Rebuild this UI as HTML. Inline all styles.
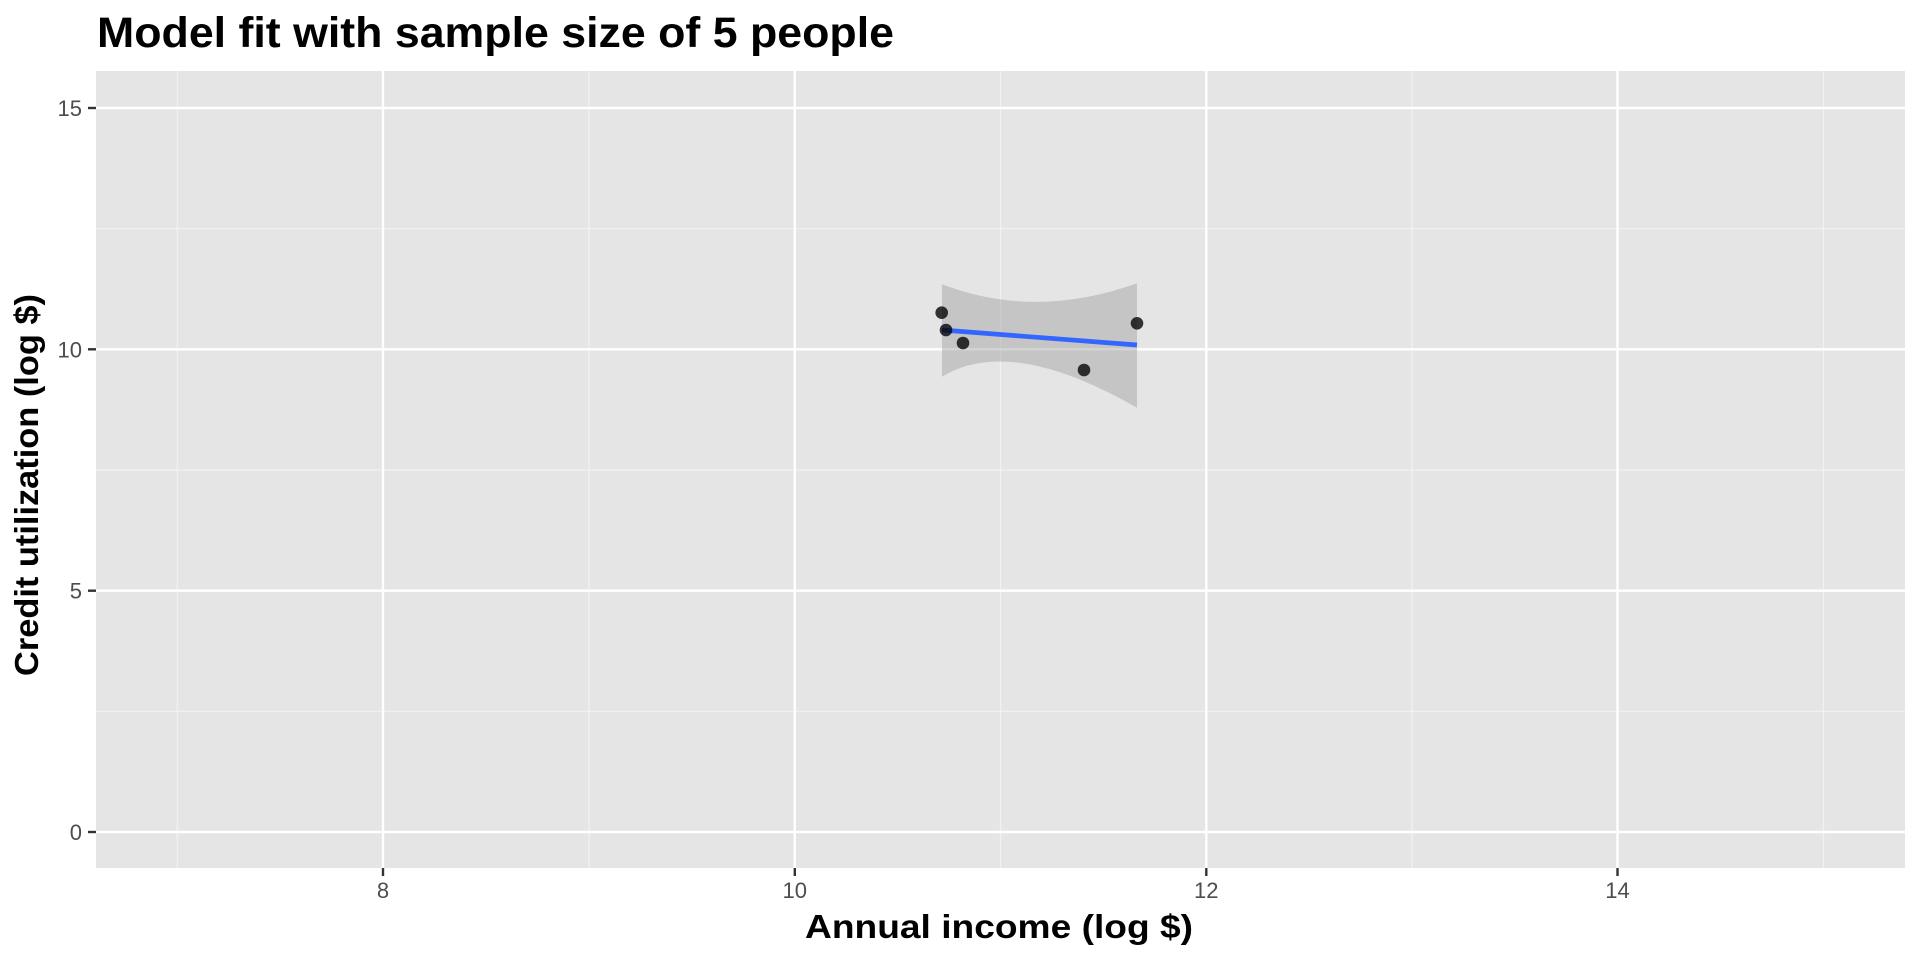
<!DOCTYPE html>
<html><head><meta charset="utf-8"><style>
html,body{margin:0;padding:0;background:#fff;}
svg{display:block;font-family:"Liberation Sans",Arial,sans-serif;}
</style></head><body>
<svg width="1920" height="960" viewBox="0 0 1920 960" xmlns="http://www.w3.org/2000/svg">
<rect width="1920" height="960" fill="#fff"/>
<text x="97" y="47" font-size="43" font-weight="bold" fill="#000" textLength="797" lengthAdjust="spacingAndGlyphs">Model fit with sample size of 5 people</text>
<rect x="96" y="71" width="1809" height="797" fill="#e5e5e5"/>
<g stroke="#f2f2f2" stroke-width="1.2">
<line x1="96" x2="1905" y1="228.7" y2="228.7"/>
<line x1="96" x2="1905" y1="470" y2="470"/>
<line x1="96" x2="1905" y1="711.3" y2="711.3"/>
<line y1="71" y2="868" x1="177.3" x2="177.3"/>
<line y1="71" y2="868" x1="589" x2="589"/>
<line y1="71" y2="868" x1="1000.5" x2="1000.5"/>
<line y1="71" y2="868" x1="1412" x2="1412"/>
<line y1="71" y2="868" x1="1823.5" x2="1823.5"/>
</g>
<g stroke="#fff" stroke-width="2.4">
<line x1="96" x2="1905" y1="108" y2="108"/>
<line x1="96" x2="1905" y1="349.3" y2="349.3"/>
<line x1="96" x2="1905" y1="590.7" y2="590.7"/>
<line x1="96" x2="1905" y1="832" y2="832"/>
<line y1="71" y2="868" x1="383" x2="383"/>
<line y1="71" y2="868" x1="794.8" x2="794.8"/>
<line y1="71" y2="868" x1="1206.3" x2="1206.3"/>
<line y1="71" y2="868" x1="1617.5" x2="1617.5"/>
</g>
<path d="M942,284.3 Q1035,320 1137,283.3 L1137,407.7 Q1010,335 942,376.7 Z" fill="#999" fill-opacity="0.42"/>
<line x1="942" y1="330" x2="1137" y2="345" stroke="#3366ff" stroke-width="4.7"/>
<g fill="#000" fill-opacity="0.78">
<circle cx="941.7" cy="312.7" r="6.3"/>
<circle cx="946" cy="330" r="6.3"/>
<circle cx="963" cy="343" r="6.3"/>
<circle cx="1084" cy="370" r="6.3"/>
<circle cx="1137" cy="323.3" r="6.3"/>
</g>
<g stroke="#333" stroke-width="2.4">
<line x1="88" x2="96" y1="108" y2="108"/>
<line x1="88" x2="96" y1="349.3" y2="349.3"/>
<line x1="88" x2="96" y1="590.7" y2="590.7"/>
<line x1="88" x2="96" y1="832" y2="832"/>
<line y1="868" y2="876" x1="383" x2="383"/>
<line y1="868" y2="876" x1="794.8" x2="794.8"/>
<line y1="868" y2="876" x1="1206.3" x2="1206.3"/>
<line y1="868" y2="876" x1="1617.5" x2="1617.5"/>
</g>
<g font-size="22" fill="#4d4d4d" text-anchor="end">
<text x="82" y="116">15</text>
<text x="82" y="357.3">10</text>
<text x="82" y="598.7">5</text>
<text x="82" y="840">0</text>
</g>
<g font-size="22" fill="#4d4d4d" text-anchor="middle">
<text x="383" y="898">8</text>
<text x="794.8" y="898">10</text>
<text x="1206.3" y="898">12</text>
<text x="1617.5" y="898">14</text>
</g>
<text x="805" y="938" font-size="33" font-weight="bold" fill="#000" textLength="388" lengthAdjust="spacingAndGlyphs">Annual income (log $)</text>
<text transform="translate(38,676) rotate(-90)" font-size="33" font-weight="bold" fill="#000" textLength="382" lengthAdjust="spacingAndGlyphs">Credit utilization (log $)</text>
</svg>
</body></html>
